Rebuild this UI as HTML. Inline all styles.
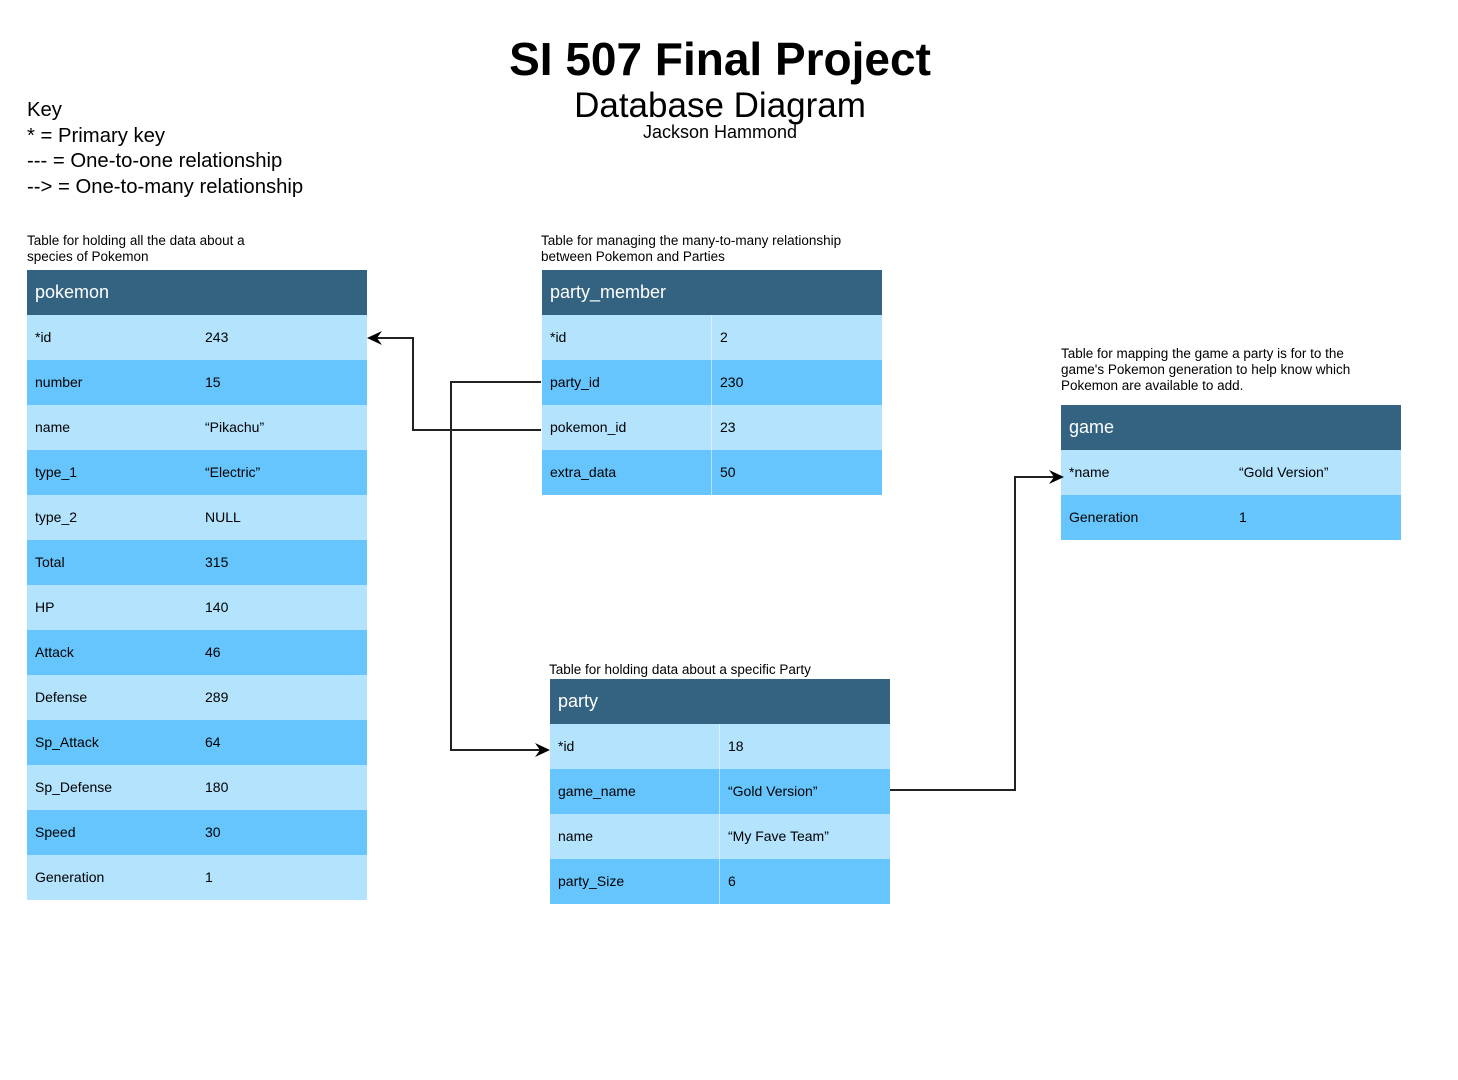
<!DOCTYPE html>
<html><head><style>
body{margin:0;width:1458px;height:1080px;background:#fff;position:relative;font-family:"Liberation Sans",sans-serif;overflow:hidden}
.t{position:absolute;white-space:nowrap;color:#000}
.h{position:absolute;background:#336380;color:#fff;font-size:18px;height:45px;line-height:45px;padding-left:8px;box-sizing:border-box;width:340px}
.r{position:absolute;height:45px;line-height:45px;font-size:14px;width:340px;box-sizing:border-box}
.r span{position:absolute;top:0}
.l{background:#b3e3fd}.d{background:#66c5fd}
.cap{position:absolute;font-size:13.5px;line-height:16px}
</style></head><body>
<div class="t" style="left:0;width:1440px;text-align:center;top:32px;font-size:46px;font-weight:bold">SI 507 Final Project</div>
<div class="t" style="left:0;width:1440px;text-align:center;top:86px;font-size:35px">Database Diagram</div>
<div class="t" style="left:0;width:1440px;text-align:center;top:122px;font-size:18px">Jackson Hammond</div>
<div class="t" style="left:27px;top:98px;font-size:20.3px;line-height:25.5px">Key<br>* = Primary key<br>--- = One-to-one relationship<br>--&gt; = One-to-many relationship</div>

<div class="cap" style="left:27px;top:233px">Table for holding all the data about a<br>species of Pokemon</div>
<div class="cap" style="left:541px;top:233px">Table for managing the many-to-many relationship<br>between Pokemon and Parties</div>
<div class="cap" style="left:1061px;top:346px">Table for mapping the game a party is for to the<br>game's Pokemon generation to help know which<br>Pokemon are available to add.</div>
<div class="cap" style="left:549px;top:662px">Table for holding data about a specific Party</div>

<div id="tables"></div>
<script>
function tbl(x,y,name,rows,vx,div){
 let h='<div class="h" style="left:'+x+'px;top:'+y+'px">'+name+'</div>';
 rows.forEach((r,i)=>{
  h+='<div class="r '+(i%2?'d':'l')+'" style="left:'+x+'px;top:'+(y+45+i*45)+'px">'+
  (div?'<span style="left:'+(div-x)+'px;width:1px;height:45px;background:rgba(255,255,255,.5)"></span>':'')+
  '<span style="left:8px">'+r[0]+'</span><span style="left:'+(vx-x)+'px">'+r[1]+'</span></div>';
 });
 document.getElementById('tables').insertAdjacentHTML('beforeend',h);
}
tbl(27,270,'pokemon',[['*id','243'],['number','15'],['name','“Pikachu”'],['type_1','“Electric”'],['type_2','NULL'],['Total','315'],['HP','140'],['Attack','46'],['Defense','289'],['Sp_Attack','64'],['Sp_Defense','180'],['Speed','30'],['Generation','1']],205,0);
tbl(542,270,'party_member',[['*id','2'],['party_id','230'],['pokemon_id','23'],['extra_data','50']],720,711);
tbl(1061,405,'game',[['*name','“Gold Version”'],['Generation','1']],1239,0);
tbl(550,679,'party',[['*id','18'],['game_name','“Gold Version”'],['name','“My Fave Team”'],['party_Size','6']],728,719);
</script>
<svg width="1458" height="1080" style="position:absolute;left:0;top:0">
<g fill="none" stroke="#222" stroke-width="2">
<polyline points="541,430 413,430 413,338 372,338"/>
<polyline points="541,382 451,382 451,750 545,750"/>
<polyline points="890,790 1015,790 1015,477 1056,477"/>
</g>
<g fill="#000">
<polygon points="367,338 382,331 377,338 382,345"/>
<polygon points="550,750 535,743 540,750 535,757"/>
<polygon points="1064,477 1049,470 1054,477 1049,484"/>
</g>
</svg>
</body></html>
